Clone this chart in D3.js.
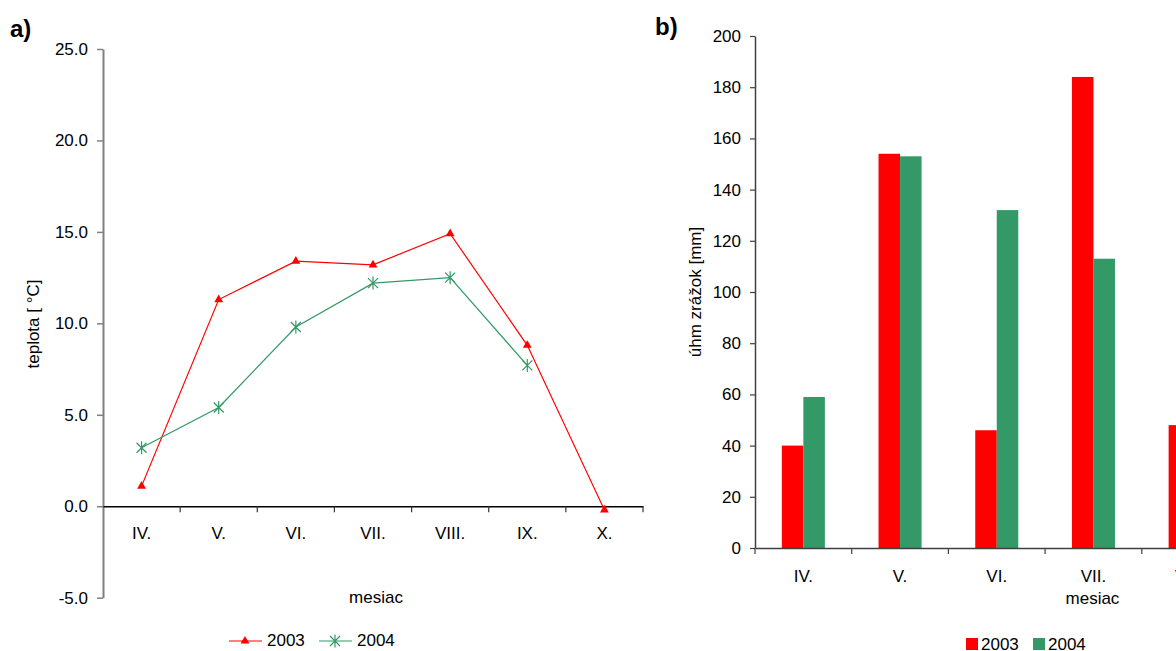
<!DOCTYPE html>
<html><head><meta charset="utf-8">
<script src="https://cdn.jsdelivr.net/npm/d3@7"></script>
<style>
body{margin:0;background:#fff}
svg{display:block}
text{font-family:"Liberation Sans",Arial,sans-serif;fill:#000}
</style>
</head><body>
<svg id="c" width="1176" height="651"></svg>
<script>
// ---- data ----
const months = ["IV.","V.","VI.","VII.","VIII.","IX.","X."];
const years = ["2003","2004"];
const temp2003 = [1.1, 11.3, 13.4, 13.2, 14.9, 8.8, -0.2];
const temp2004 = [3.2, 5.4, 9.8, 12.2, 12.5, 7.7, null];
const precip2003 = [40, 154, 46, 184, 48, null, null];
const precip2004 = [59, 153, 132, 113, null, null, null];
const tempTicks = [-5, 0, 5, 10, 15, 20, 25];
const precipTicks = [0, 20, 40, 60, 80, 100, 120, 140, 160, 180, 200];

const RED = "#ff0000", GREEN = "#339966";
const FS = 17;
const svg = d3.select("#c");

// ================= panel a =================
const xA = d3.scaleBand().domain(months).range([103, 643]).padding(0);
const yA = d3.scaleLinear().domain([-5, 25]).range([597.7, 49]);

svg.append("text").attr("x", 10).attr("y", 37)
  .attr("font-size", 24).attr("font-weight", "bold").text("a)");

const gyA = svg.append("g").attr("transform", "translate(103,0)")
  .call(d3.axisLeft(yA).tickValues(tempTicks).tickFormat(d => d.toFixed(1))
        .tickSize(6).tickSizeOuter(0).tickPadding(9));
gyA.select(".domain").attr("stroke", "#808080").attr("stroke-width", 2);
gyA.selectAll(".tick line").attr("stroke", "#808080").attr("stroke-width", 1.5);
gyA.selectAll(".tick text").attr("font-size", FS).attr("font-family", null);

// x axis at zero
const gxA = svg.append("g").attr("transform", `translate(0,${yA(0)})`)
  .call(d3.axisBottom(xA).tickSize(0).tickPadding(21));
gxA.select(".domain").attr("stroke", "#000").attr("stroke-width", 1.5);
gxA.selectAll(".tick text").attr("font-size", FS).attr("font-family", null);
gxA.selectAll(".sep").data(months).enter().append("line")
  .attr("x1", d => xA(d) + xA.bandwidth()).attr("x2", d => xA(d) + xA.bandwidth())
  .attr("y1", 0).attr("y2", 6).attr("stroke", "#333").attr("stroke-width", 1.2);

svg.append("text").attr("x", xA.range()[0] + (xA.range()[1] - xA.range()[0]) / 2 + 3).attr("y", 603)
  .attr("text-anchor", "middle").attr("font-size", FS).text("mesiac");
svg.append("text").attr("transform", "translate(39,324) rotate(-90)")
  .attr("text-anchor", "middle").attr("font-size", FS).text("teplota [ °C]");

const cx = i => xA(months[i]) + xA.bandwidth() / 2;
const lineA = d3.line().defined(d => d[1] != null).x(d => cx(d[0])).y(d => yA(d[1]));
const s03 = temp2003.map((v, i) => [i, v]);
const s04 = temp2004.map((v, i) => [i, v]);
svg.append("path").attr("d", lineA(s03)).attr("fill", "none").attr("stroke", RED).attr("stroke-width", 1.2);
svg.append("path").attr("d", lineA(s04)).attr("fill", "none").attr("stroke", GREEN).attr("stroke-width", 1.2);

const tri = d3.symbol().type(d3.symbolTriangle).size(34);
const star = "M-5,-5L5,5M-5,5L5,-5M0,-6.5L0,6.5";
svg.selectAll(".m03").data(s03.filter(d => d[1] != null)).enter().append("path")
  .attr("transform", d => `translate(${cx(d[0])},${yA(d[1])})`).attr("d", tri).attr("fill", RED);
svg.selectAll(".m04").data(s04.filter(d => d[1] != null)).enter().append("path")
  .attr("transform", d => `translate(${cx(d[0])},${yA(d[1])})`).attr("d", star)
  .attr("fill", "none").attr("stroke", GREEN).attr("stroke-width", 1.2);

// legend a
const legA = svg.append("g");
legA.append("line").attr("x1", 229).attr("x2", 262).attr("y1", 641).attr("y2", 641).attr("stroke", RED).attr("stroke-width", 1.2);
legA.append("path").attr("transform", "translate(245,641)").attr("d", tri).attr("fill", RED);
legA.append("text").attr("x", 267).attr("y", 646).attr("font-size", FS).text(years[0]);
legA.append("line").attr("x1", 319).attr("x2", 352).attr("y1", 641).attr("y2", 641).attr("stroke", GREEN).attr("stroke-width", 1.2);
legA.append("path").attr("transform", "translate(335,641)").attr("d", star).attr("fill", "none").attr("stroke", GREEN).attr("stroke-width", 1.2);
legA.append("text").attr("x", 357).attr("y", 646).attr("font-size", FS).text(years[1]);

// ================= panel b =================
const xB = d3.scaleBand().domain(months).range([755, 755 + 7 * 96.7]).padding(0);
const yB = d3.scaleLinear().domain([0, 200]).range([548, 36]);
const xSub = d3.scaleBand().domain(years)
  .range([xB.bandwidth() * 0.2775, xB.bandwidth() * 0.7225]).padding(0);

svg.append("text").attr("x", 655).attr("y", 35)
  .attr("font-size", 24).attr("font-weight", "bold").text("b)");

const bars = [];
months.forEach((m, i) => {
  if (precip2003[i] != null) bars.push({m, y: years[0], v: precip2003[i], c: RED});
  if (precip2004[i] != null) bars.push({m, y: years[1], v: precip2004[i], c: GREEN});
});
svg.selectAll(".bar").data(bars).enter().append("rect")
  .attr("x", d => xB(d.m) + xSub(d.y)).attr("width", xSub.bandwidth())
  .attr("y", d => yB(d.v)).attr("height", d => yB(0) - yB(d.v)).attr("fill", d => d.c);

const gyB = svg.append("g").attr("transform", "translate(755,0)")
  .call(d3.axisLeft(yB).tickValues(precipTicks).tickSize(5).tickSizeOuter(0).tickPadding(9));
gyB.select(".domain").attr("stroke", "#404040").attr("stroke-width", 1.5);
gyB.selectAll(".tick line").attr("stroke", "#404040").attr("stroke-width", 1.2);
gyB.selectAll(".tick text").attr("font-size", FS).attr("font-family", null);

const gxB = svg.append("g").attr("transform", `translate(0,${yB(0)})`)
  .call(d3.axisBottom(xB).tickSize(0).tickPadding(22));
gxB.select(".domain").attr("stroke", "#404040").attr("stroke-width", 1.5);
gxB.selectAll(".tick text").attr("font-size", FS).attr("font-family", null);
gxB.selectAll(".sep").data([null].concat(months)).enter().append("line")
  .attr("x1", d => d == null ? xB.range()[0] : xB(d) + xB.bandwidth())
  .attr("x2", d => d == null ? xB.range()[0] : xB(d) + xB.bandwidth())
  .attr("y1", 0).attr("y2", 6).attr("stroke", "#404040").attr("stroke-width", 1.2);

svg.append("text").attr("x", (xB.range()[0] + xB.range()[1]) / 2 - 1).attr("y", 604)
  .attr("text-anchor", "middle").attr("font-size", FS).text("mesiac");
svg.append("text").attr("transform", "translate(701,292) rotate(-90)")
  .attr("text-anchor", "middle").attr("font-size", FS).text("úhm zrážok [mm]");

// legend b
const legB = svg.append("g");
legB.append("rect").attr("x", 966).attr("y", 638).attr("width", 12).attr("height", 12).attr("fill", RED);
legB.append("text").attr("x", 981).attr("y", 650).attr("font-size", FS).text(years[0]);
legB.append("rect").attr("x", 1033).attr("y", 638).attr("width", 12).attr("height", 12).attr("fill", GREEN);
legB.append("text").attr("x", 1048).attr("y", 650).attr("font-size", FS).text(years[1]);
</script>
</body></html>
